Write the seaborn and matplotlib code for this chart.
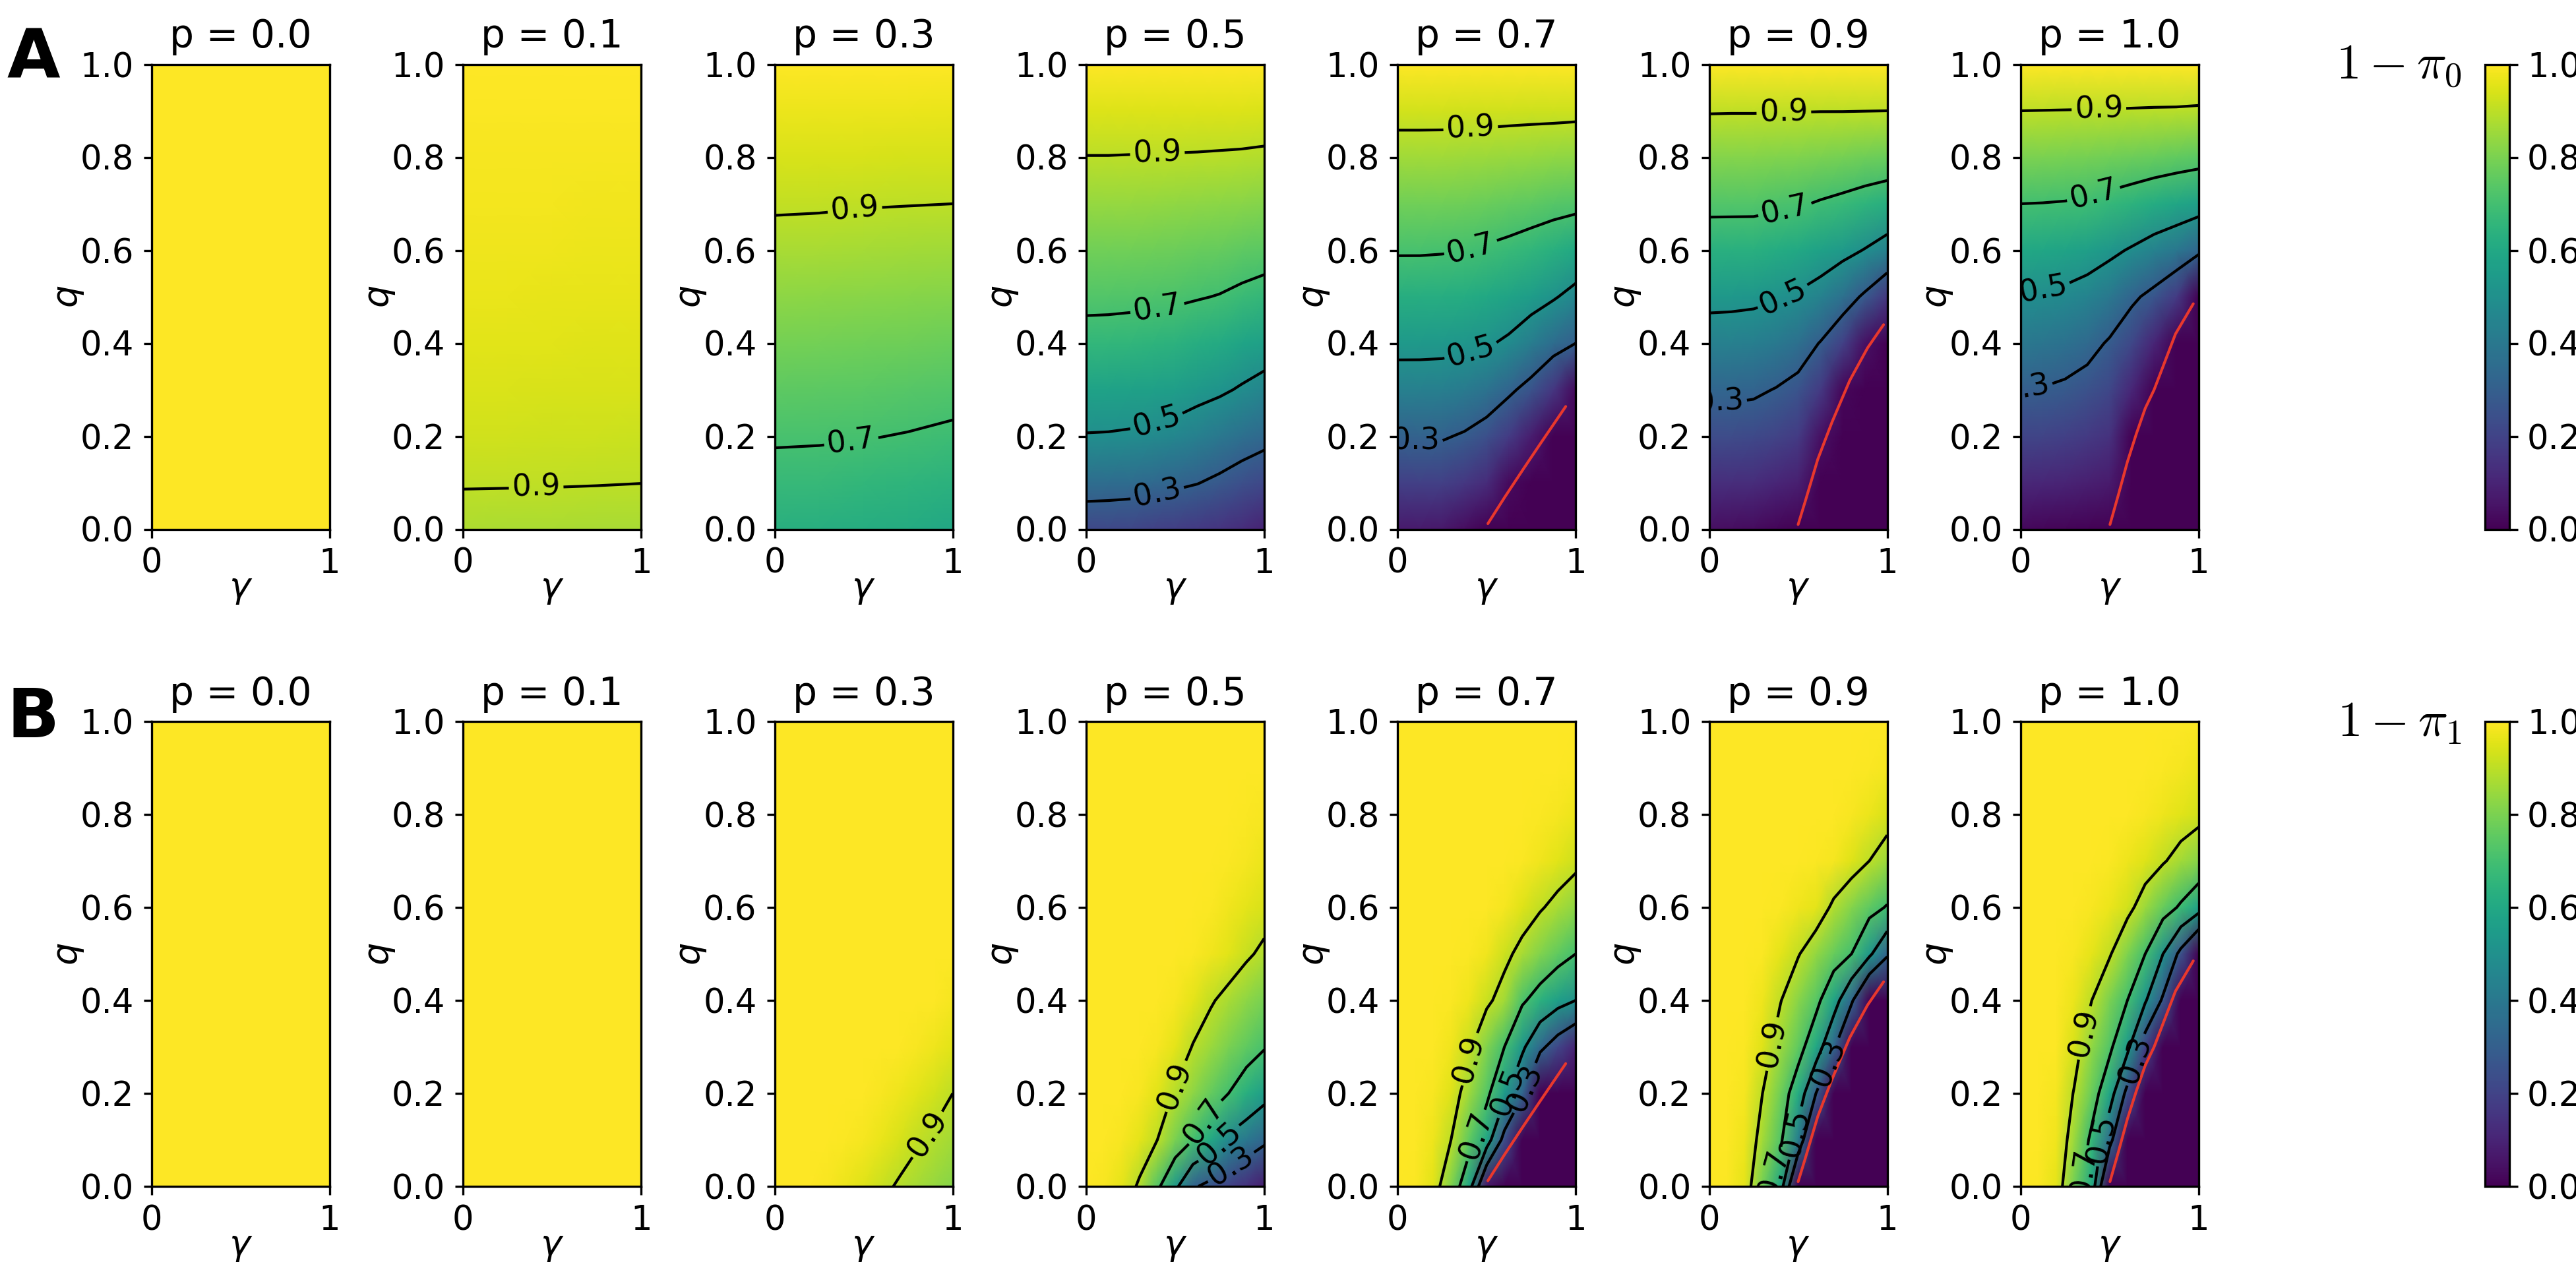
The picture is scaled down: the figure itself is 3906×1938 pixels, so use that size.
import numpy as np
import matplotlib.pyplot as plt
import seaborn as sns
from matplotlib.cm import ScalarMappable
from matplotlib.colors import Normalize
from matplotlib.ticker import FormatStrFormatter

# ---- values ----------------------------------------------------------------
P_VALUES = [0.0, 0.1, 0.3, 0.5, 0.7, 0.9, 1.0]
LEVELS = [0.3, 0.5, 0.7, 0.9]

Q_GRID = [0.0, 0.1, 0.2, 0.3, 0.4, 0.5, 0.6, 0.7, 0.8, 0.9, 1.0]
GAMMA_A5 = [0.0, 0.25, 0.5, 0.75, 1.0]
GAMMA_A9 = [0.0, 0.125, 0.25, 0.375, 0.5, 0.625, 0.75, 0.875, 1.0]
GAMMA_B = [0.0, 0.1, 0.2, 0.3, 0.4, 0.5, 0.6, 0.7, 0.8, 0.9, 1.0]
CORNERS = [0.0, 1.0]
FLAT = [[1.0, 1.0], [1.0, 1.0]]

# row A : 1 - pi_0   (rows = q, columns = gamma)
A_P01 = [
    [0.875, 0.874, 0.873, 0.871, 0.869],
    [0.904, 0.9035, 0.903, 0.902, 0.9005],
    [0.927, 0.926, 0.925, 0.923, 0.921],
    [0.943, 0.942, 0.941, 0.940, 0.938],
    [0.955, 0.955, 0.954, 0.953, 0.951],
    [0.965, 0.965, 0.964, 0.963, 0.962],
    [0.974, 0.974, 0.973, 0.972, 0.971],
    [0.981, 0.981, 0.981, 0.980, 0.980],
    [0.988, 0.988, 0.988, 0.987, 0.987],
    [0.994, 0.994, 0.994, 0.994, 0.994],
    [1.000, 1.000, 1.000, 1.000, 1.000],
]
A_P03 = [
    [0.630, 0.628, 0.620, 0.610, 0.595],
    [0.670, 0.668, 0.660, 0.652, 0.640],
    [0.710, 0.708, 0.704, 0.696, 0.685],
    [0.750, 0.748, 0.744, 0.738, 0.728],
    [0.790, 0.788, 0.784, 0.778, 0.771],
    [0.830, 0.828, 0.824, 0.820, 0.814],
    [0.870, 0.868, 0.864, 0.860, 0.857],
    [0.910, 0.908, 0.904, 0.902, 0.900],
    [0.940, 0.940, 0.938, 0.937, 0.935],
    [0.970, 0.970, 0.969, 0.969, 0.968],
    [1.000, 1.000, 1.000, 1.000, 1.000],
]
A_P05 = [
    [0.217, 0.215, 0.210, 0.195, 0.180, 0.165, 0.150, 0.125, 0.096],
    [0.356, 0.353, 0.348, 0.337, 0.321, 0.304, 0.275, 0.243, 0.216],
    [0.494, 0.492, 0.486, 0.475, 0.459, 0.430, 0.400, 0.364, 0.336],
    [0.578, 0.576, 0.573, 0.566, 0.557, 0.538, 0.518, 0.488, 0.457],
    [0.659, 0.657, 0.653, 0.647, 0.639, 0.623, 0.607, 0.585, 0.563],
    [0.728, 0.727, 0.724, 0.720, 0.715, 0.706, 0.696, 0.678, 0.661],
    [0.785, 0.784, 0.782, 0.779, 0.775, 0.769, 0.762, 0.753, 0.743],
    [0.842, 0.841, 0.840, 0.838, 0.835, 0.831, 0.827, 0.821, 0.814],
    [0.898, 0.898, 0.897, 0.896, 0.895, 0.894, 0.892, 0.890, 0.886],
    [0.949, 0.949, 0.948, 0.948, 0.948, 0.947, 0.947, 0.946, 0.944],
    [1.000, 1.000, 1.000, 1.000, 1.000, 1.000, 1.000, 1.000, 1.000],
]
A_P07 = [
    [0.070, 0.070, 0.065, 0.035, 0.000, 0.000, 0.000, 0.000, 0.000],
    [0.191, 0.192, 0.190, 0.161, 0.122, 0.027, 0.000, 0.000, 0.000],
    [0.312, 0.314, 0.312, 0.287, 0.245, 0.174, 0.081, 0.000, 0.000],
    [0.432, 0.433, 0.429, 0.413, 0.379, 0.323, 0.256, 0.160, 0.027],
    [0.538, 0.537, 0.535, 0.526, 0.513, 0.480, 0.420, 0.354, 0.300],
    [0.625, 0.624, 0.622, 0.614, 0.601, 0.581, 0.551, 0.512, 0.459],
    [0.710, 0.710, 0.707, 0.702, 0.689, 0.674, 0.654, 0.629, 0.601],
    [0.784, 0.784, 0.782, 0.778, 0.770, 0.761, 0.750, 0.738, 0.728],
    [0.858, 0.858, 0.857, 0.854, 0.850, 0.846, 0.840, 0.835, 0.829],
    [0.930, 0.930, 0.930, 0.929, 0.928, 0.926, 0.925, 0.924, 0.922],
    [1.000, 1.000, 1.000, 1.000, 1.000, 1.000, 1.000, 1.000, 1.000],
]
A_P09 = [
    [0.040, 0.035, 0.030, 0.015, 0.000, 0.000, 0.000, 0.000, 0.000],
    [0.135, 0.132, 0.125, 0.108, 0.087, 0.000, 0.000, 0.000, 0.000],
    [0.229, 0.228, 0.222, 0.202, 0.174, 0.044, 0.000, 0.000, 0.000],
    [0.327, 0.327, 0.320, 0.295, 0.261, 0.169, 0.017, 0.000, 0.000],
    [0.433, 0.431, 0.424, 0.403, 0.365, 0.294, 0.192, 0.046, 0.000],
    [0.536, 0.533, 0.527, 0.511, 0.485, 0.444, 0.370, 0.277, 0.158],
    [0.633, 0.631, 0.629, 0.616, 0.598, 0.574, 0.540, 0.494, 0.434],
    [0.727, 0.727, 0.727, 0.718, 0.710, 0.691, 0.673, 0.650, 0.627],
    [0.816, 0.816, 0.816, 0.811, 0.807, 0.797, 0.790, 0.781, 0.773],
    [0.906, 0.905, 0.905, 0.904, 0.903, 0.902, 0.902, 0.901, 0.900],
    [1.000, 1.000, 1.000, 1.000, 1.000, 1.000, 1.000, 1.000, 1.000],
]
A_P10 = [
    [0.020, 0.015, 0.010, 0.005, 0.000, 0.000, 0.000, 0.000, 0.000],
    [0.113, 0.108, 0.099, 0.087, 0.071, 0.000, 0.000, 0.000, 0.000],
    [0.207, 0.201, 0.188, 0.169, 0.143, 0.003, 0.000, 0.000, 0.000],
    [0.300, 0.294, 0.278, 0.251, 0.214, 0.107, 0.000, 0.000, 0.000],
    [0.400, 0.389, 0.374, 0.342, 0.286, 0.211, 0.105, 0.000, 0.000],
    [0.490, 0.484, 0.472, 0.446, 0.400, 0.324, 0.262, 0.175, 0.000],
    [0.600, 0.590, 0.581, 0.560, 0.528, 0.487, 0.439, 0.396, 0.330],
    [0.700, 0.698, 0.694, 0.684, 0.666, 0.644, 0.617, 0.591, 0.565],
    [0.800, 0.798, 0.796, 0.792, 0.784, 0.776, 0.766, 0.756, 0.745],
    [0.900, 0.899, 0.898, 0.897, 0.896, 0.894, 0.892, 0.891, 0.887],
    [1.000, 1.000, 1.000, 1.000, 1.000, 1.000, 1.000, 1.000, 1.000],
]

# row B : 1 - pi_1   (rows = q, columns = gamma)
B_P03 = [
    [1.000, 1.000, 1.000, 0.990, 0.970, 0.950, 0.920, 0.890, 0.865, 0.840, 0.820],
    [1.000, 1.000, 1.000, 1.000, 0.995, 0.985, 0.965, 0.940, 0.910, 0.885, 0.860],
    [1.000, 1.000, 1.000, 1.000, 1.000, 0.998, 0.990, 0.975, 0.955, 0.930, 0.900],
    [1.000, 1.000, 1.000, 1.000, 1.000, 1.000, 1.000, 1.000, 0.990, 0.975, 0.955],
    [1.000, 1.000, 1.000, 1.000, 1.000, 1.000, 1.000, 1.000, 1.000, 0.998, 0.985],
    [1.000, 1.000, 1.000, 1.000, 1.000, 1.000, 1.000, 1.000, 1.000, 1.000, 0.997],
    [1.000, 1.000, 1.000, 1.000, 1.000, 1.000, 1.000, 1.000, 1.000, 1.000, 1.000],
    [1.000, 1.000, 1.000, 1.000, 1.000, 1.000, 1.000, 1.000, 1.000, 1.000, 1.000],
    [1.000, 1.000, 1.000, 1.000, 1.000, 1.000, 1.000, 1.000, 1.000, 1.000, 1.000],
    [1.000, 1.000, 1.000, 1.000, 1.000, 1.000, 1.000, 1.000, 1.000, 1.000, 1.000],
    [1.000, 1.000, 1.000, 1.000, 1.000, 1.000, 1.000, 1.000, 1.000, 1.000, 1.000],
]
B_P05 = [
    [1.000, 0.990, 0.960, 0.885, 0.731, 0.540, 0.320, 0.254, 0.196, 0.138, 0.080],
    [1.000, 1.000, 0.990, 0.960, 0.900, 0.800, 0.700, 0.600, 0.470, 0.400, 0.330],
    [1.000, 1.000, 1.000, 0.990, 0.955, 0.890, 0.830, 0.765, 0.700, 0.630, 0.555],
    [1.000, 1.000, 1.000, 1.000, 0.990, 0.960, 0.895, 0.850, 0.800, 0.755, 0.710],
    [1.000, 1.000, 1.000, 1.000, 1.000, 0.990, 0.960, 0.910, 0.870, 0.830, 0.794],
    [1.000, 1.000, 1.000, 1.000, 1.000, 1.000, 0.995, 0.980, 0.955, 0.915, 0.880],
    [1.000, 1.000, 1.000, 1.000, 1.000, 1.000, 1.000, 0.995, 0.980, 0.960, 0.940],
    [1.000, 1.000, 1.000, 1.000, 1.000, 1.000, 1.000, 1.000, 0.995, 0.985, 0.970],
    [1.000, 1.000, 1.000, 1.000, 1.000, 1.000, 1.000, 1.000, 1.000, 0.995, 0.990],
    [1.000, 1.000, 1.000, 1.000, 1.000, 1.000, 1.000, 1.000, 1.000, 1.000, 0.998],
    [1.000, 1.000, 1.000, 1.000, 1.000, 1.000, 1.000, 1.000, 1.000, 1.000, 1.000],
]
B_P07 = [
    [1.000, 0.995, 0.955, 0.805, 0.586, 0.057, 0.000, 0.000, 0.000, 0.000, 0.000],
    [1.000, 1.000, 0.975, 0.900, 0.757, 0.588, 0.237, 0.000, 0.000, 0.000, 0.000],
    [1.000, 1.000, 0.990, 0.950, 0.853, 0.735, 0.544, 0.322, 0.000, 0.000, 0.000],
    [1.000, 1.000, 1.000, 0.980, 0.920, 0.811, 0.700, 0.533, 0.340, 0.210, 0.100],
    [1.000, 1.000, 1.000, 0.995, 0.975, 0.920, 0.860, 0.720, 0.640, 0.560, 0.500],
    [1.000, 1.000, 1.000, 1.000, 0.995, 0.980, 0.925, 0.870, 0.810, 0.755, 0.700],
    [1.000, 1.000, 1.000, 1.000, 1.000, 0.998, 0.985, 0.950, 0.910, 0.870, 0.830],
    [1.000, 1.000, 1.000, 1.000, 1.000, 1.000, 1.000, 0.995, 0.980, 0.955, 0.925],
    [1.000, 1.000, 1.000, 1.000, 1.000, 1.000, 1.000, 1.000, 0.995, 0.985, 0.970],
    [1.000, 1.000, 1.000, 1.000, 1.000, 1.000, 1.000, 1.000, 1.000, 1.000, 0.995],
    [1.000, 1.000, 1.000, 1.000, 1.000, 1.000, 1.000, 1.000, 1.000, 1.000, 1.000],
]
B_P09 = [
    [1.000, 0.995, 0.960, 0.788, 0.589, 0.000, 0.000, 0.000, 0.000, 0.000, 0.000],
    [1.000, 1.000, 0.975, 0.861, 0.732, 0.425, 0.000, 0.000, 0.000, 0.000, 0.000],
    [1.000, 1.000, 0.985, 0.900, 0.782, 0.614, 0.300, 0.000, 0.000, 0.000, 0.000],
    [1.000, 1.000, 0.995, 0.950, 0.852, 0.757, 0.600, 0.329, 0.000, 0.000, 0.000],
    [1.000, 1.000, 1.000, 0.975, 0.905, 0.823, 0.741, 0.582, 0.327, 0.000, 0.000],
    [1.000, 1.000, 1.000, 0.995, 0.960, 0.907, 0.838, 0.769, 0.700, 0.533, 0.320],
    [1.000, 1.000, 1.000, 1.000, 0.995, 0.980, 0.960, 0.880, 0.816, 0.750, 0.690],
    [1.000, 1.000, 1.000, 1.000, 1.000, 1.000, 0.995, 0.985, 0.950, 0.900, 0.850],
    [1.000, 1.000, 1.000, 1.000, 1.000, 1.000, 1.000, 1.000, 0.990, 0.970, 0.940],
    [1.000, 1.000, 1.000, 1.000, 1.000, 1.000, 1.000, 1.000, 1.000, 0.995, 0.985],
    [1.000, 1.000, 1.000, 1.000, 1.000, 1.000, 1.000, 1.000, 1.000, 1.000, 1.000],
]
B_P10 = [
    [1.000, 0.995, 0.960, 0.788, 0.600, 0.000, 0.000, 0.000, 0.000, 0.000, 0.000],
    [1.000, 1.000, 0.980, 0.850, 0.667, 0.357, 0.000, 0.000, 0.000, 0.000, 0.000],
    [1.000, 1.000, 0.985, 0.895, 0.773, 0.586, 0.245, 0.000, 0.000, 0.000, 0.000],
    [1.000, 1.000, 1.000, 0.940, 0.833, 0.731, 0.544, 0.200, 0.000, 0.000, 0.000],
    [1.000, 1.000, 1.000, 0.970, 0.900, 0.800, 0.700, 0.518, 0.273, 0.000, 0.000],
    [1.000, 1.000, 1.000, 0.990, 0.960, 0.910, 0.805, 0.700, 0.500, 0.250, 0.000],
    [1.000, 1.000, 1.000, 1.000, 0.990, 0.970, 0.930, 0.850, 0.767, 0.680, 0.570],
    [1.000, 1.000, 1.000, 1.000, 1.000, 0.995, 0.975, 0.950, 0.910, 0.860, 0.820],
    [1.000, 1.000, 1.000, 1.000, 1.000, 1.000, 0.998, 0.990, 0.975, 0.955, 0.930],
    [1.000, 1.000, 1.000, 1.000, 1.000, 1.000, 1.000, 1.000, 0.995, 0.985, 0.970],
    [1.000, 1.000, 1.000, 1.000, 1.000, 1.000, 1.000, 1.000, 1.000, 1.000, 0.995],
]

# red boundary curve (same in both rows)
RED_P07_GAMMA = [0.507, 0.60, 0.70, 0.80, 0.944]
RED_P07_Q = [0.012, 0.068, 0.126, 0.183, 0.264]
RED_P09_GAMMA = [0.50, 0.54, 0.61, 0.69, 0.79, 0.89, 0.98]
RED_P09_Q = [0.01, 0.06, 0.15, 0.23, 0.32, 0.39, 0.44]
RED_P10_GAMMA = [0.502, 0.55, 0.60, 0.65, 0.70, 0.75, 0.80, 0.87, 0.97]
RED_P10_Q = [0.01, 0.075, 0.145, 0.205, 0.26, 0.30, 0.35, 0.42, 0.485]

ROW_A = [(CORNERS, CORNERS, FLAT), (GAMMA_A5, Q_GRID, A_P01), (GAMMA_A5, Q_GRID, A_P03),
         (GAMMA_A9, Q_GRID, A_P05), (GAMMA_A9, Q_GRID, A_P07), (GAMMA_A9, Q_GRID, A_P09),
         (GAMMA_A9, Q_GRID, A_P10)]
ROW_B = [(CORNERS, CORNERS, FLAT), (CORNERS, CORNERS, FLAT), (GAMMA_B, Q_GRID, B_P03),
         (GAMMA_B, Q_GRID, B_P05), (GAMMA_B, Q_GRID, B_P07), (GAMMA_B, Q_GRID, B_P09),
         (GAMMA_B, Q_GRID, B_P10)]
RED = {0.7: (RED_P07_GAMMA, RED_P07_Q), 0.9: (RED_P09_GAMMA, RED_P09_Q),
       1.0: (RED_P10_GAMMA, RED_P10_Q)}

# where the contour labels sit (gamma, q), per panel
SPOTS_A = {
    0.1: [(0.41, 0.09)],
    0.3: [(0.45, 0.69), (0.43, 0.19)],
    0.5: [(0.40, 0.81), (0.40, 0.475), (0.40, 0.226), (0.40, 0.076)],
    0.7: [(0.41, 0.864), (0.41, 0.605), (0.41, 0.385), (0.10, 0.18)],
    0.9: [(0.42, 0.894), (0.42, 0.70), (0.42, 0.495), (0.06, 0.27)],
    1.0: [(0.44, 0.904), (0.41, 0.72), (0.13, 0.51), (0.03, 0.30)],
}
SPOTS_B = {
    0.3: [(0.815, 0.123)],
    0.5: [(0.494, 0.217), (0.676, 0.136), (0.754, 0.089), (0.805, 0.047)],
    0.7: [(0.40, 0.274), (0.435, 0.11), (0.62, 0.202), (0.71, 0.212)],
    0.9: [(0.37, 0.305), (0.35, 0.03), (0.48, 0.115), (0.655, 0.268)],
    1.0: [(0.348, 0.331), (0.34, 0.031), (0.447, 0.102), (0.634, 0.274)],
}

# ---- style -------------------------------------------------------------------
sns.set_theme(style="ticks", rc={
    "axes.edgecolor": "black", "axes.linewidth": 0.8,
    "xtick.color": "black", "ytick.color": "black",
    "xtick.major.size": 3.0, "ytick.major.size": 3.0,
    "xtick.major.width": 0.8, "ytick.major.width": 0.8,
    "text.color": "black", "axes.labelcolor": "black",
    "xtick.labelsize": 12.3, "ytick.labelsize": 12.3,
    "axes.labelsize": 13, "axes.titlesize": 14,
})
plt.rcParams["font.family"] = ["DejaVu Sans"]
plt.rcParams["mathtext.fontset"] = "dejavusans"

cmap = sns.color_palette("viridis", as_cmap=True)

W, H = 3906, 1938
fig = plt.figure(figsize=(W / 300, H / 300), dpi=300)

ROW_TOP = [97.5, 1094]
AX_W, AX_H = 270, 705


def draw_row(panels, spots, top):
    for i, p in enumerate(P_VALUES):
        left = 230 + i * 472.3
        ax = fig.add_axes([left / W, 1 - (top + AX_H) / H, AX_W / W, AX_H / H])
        g, q, z = panels[i]
        G, Q = np.meshgrid(g, q)
        Z = np.array(z)
        ax.pcolormesh(G, Q, Z, shading="gouraud", cmap=cmap, vmin=0, vmax=1)
        ax.set_xlim(0, 1)
        ax.set_ylim(0, 1)
        if Z.min() < max(LEVELS):
            cs = ax.contour(G, Q, Z, levels=LEVELS, colors="black", linewidths=1.0)
            ax.clabel(cs, inline=True, fontsize=11, fmt="%.1f", manual=spots[p])
        if p in RED:
            rg, rq = RED[p]
            ax.plot(rg, rq, color="#e8382d", lw=1.0)
        ax.set_xticks([0, 1])
        ax.set_xticklabels(["0", "1"])
        ax.set_yticks([0, 0.2, 0.4, 0.6, 0.8, 1.0])
        ax.yaxis.set_major_formatter(FormatStrFormatter("%.1f"))
        ax.set_title(f"p = {p:.1f}")
        ax.set_xlabel(r"$\gamma$", labelpad=-3)
        ax.set_ylabel(r"$q$", labelpad=-2)

    cax = fig.add_axes([3768 / W, 1 - (top + AX_H) / H, 37 / W, AX_H / H])
    cb = fig.colorbar(ScalarMappable(norm=Normalize(0, 1), cmap=cmap), cax=cax)
    cb.set_ticks([0, 0.2, 0.4, 0.6, 0.8, 1.0])
    cb.ax.yaxis.set_major_formatter(FormatStrFormatter("%.1f"))
    cb.outline.set_linewidth(0.8)


draw_row(ROW_A, SPOTS_A, ROW_TOP[0])
draw_row(ROW_B, SPOTS_B, ROW_TOP[1])

fig.text(3733 / W, 1 - 100 / H, r"$1-\pi_0$", ha="right", va="center",
         fontsize=18, math_fontfamily="cm")
fig.text(3733 / W, 1 - 1096 / H, r"$1-\pi_1$", ha="right", va="center",
         fontsize=18, math_fontfamily="cm")

fig.text(10 / W, 1 - 118 / H, "A", fontsize=25, fontweight="bold", va="baseline")
fig.text(10 / W, 1 - 1118 / H, "B", fontsize=25, fontweight="bold", va="baseline")

fig.savefig("out.png", dpi=300)
